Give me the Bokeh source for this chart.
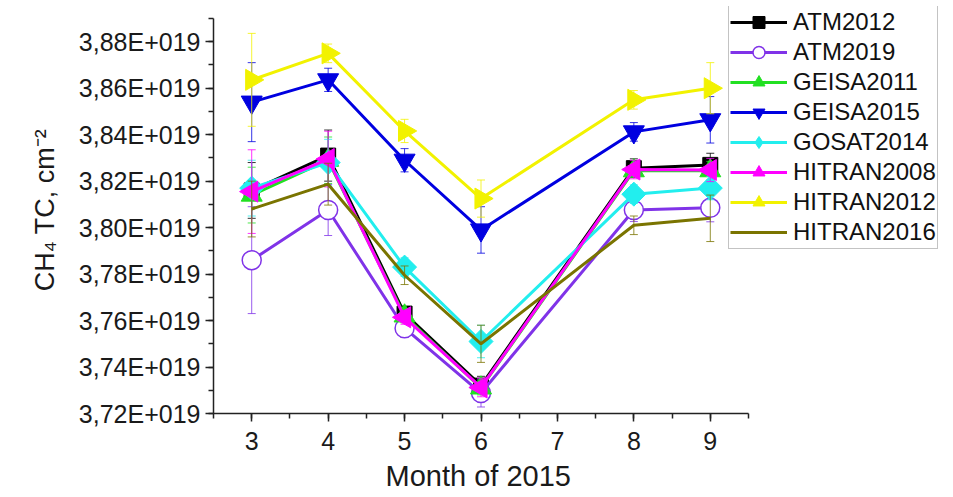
import numpy as np
from bokeh.plotting import figure
from bokeh.models import (ColumnDataSource, Legend, LegendItem, SingleIntervalTicker,
                          CustomJSTickFormatter, Range1d, Title)
from bokeh.embed import file_html
from bokeh.resources import INLINE

# ---- data (values in units of 1E+019 molecules/cm^2) ----
months = [3, 4, 5, 6, 8, 9]

series_names = ["ATM2012", "ATM2019", "GEISA2011", "GEISA2015",
                "GOSAT2014", "HITRAN2008", "HITRAN2012", "HITRAN2016"]

ATM2012 = [3.816, 3.831, 3.763, 3.732, 3.8256, 3.827]
ATM2019 = [3.786, 3.8076, 3.7567, 3.7288, 3.8076, 3.8085]
GEISA2011 = [3.814, 3.829, 3.762, 3.731, 3.8245, 3.8245]
GEISA2015 = [3.854, 3.8636, 3.829, 3.799, 3.8412, 3.8464]
GOSAT2014 = [3.817, 3.828, 3.783, 3.751, 3.8144, 3.817]
HITRAN2008 = [3.8155, 3.8295, 3.7614, 3.7312, 3.825, 3.8248]
HITRAN2012 = [3.8636, 3.875, 3.8416, 3.8125, 3.855, 3.860]
HITRAN2016 = [3.808, 3.8187, 3.7795, 3.750, 3.801, 3.804]

ERR_ATM2012 = [0.012, 0.011, 0.003, 0.004, 0.004, 0.005]
ERR_ATM2019 = [0.023, 0.011, 0.004, 0.006, 0.005, 0.006]
ERR_GEISA2011 = [0.012, 0.010, 0.003, 0.003, 0.003, 0.004]
ERR_GEISA2015 = [0.017, 0.005, 0.005, 0.010, 0.004, 0.010]
ERR_GOSAT2014 = [0.012, 0.010, 0.004, 0.007, 0.004, 0.005]
ERR_HITRAN2008 = [0.018, 0.012, 0.003, 0.004, 0.004, 0.005]
ERR_HITRAN2012 = [0.020, 0.004, 0.005, 0.008, 0.004, 0.011]
ERR_HITRAN2016 = [0.012, 0.009, 0.004, 0.008, 0.004, 0.010]

x_axis_bounds = (2.5, 9.5)
y_axis_bounds = (3.72, 3.89)
x_title = "Month of 2015"
y_title = "CH\u2084 TC, cm\u207B\u00B2"

values = [ATM2012, ATM2019, GEISA2011, GEISA2015, GOSAT2014, HITRAN2008, HITRAN2012, HITRAN2016]
errors = [ERR_ATM2012, ERR_ATM2019, ERR_GEISA2011, ERR_GEISA2015, ERR_GOSAT2014,
          ERR_HITRAN2008, ERR_HITRAN2012, ERR_HITRAN2016]

# ---- styles ----
colors = ["#000000", "#8033E8", "#22E022", "#0000E0", "#22EEEE", "#FF00FF", "#F2F200", "#7A7400"]
markers = ["square", "circle", "triangle", "inverted_triangle", "square",
           "triangle", "triangle", "hexagon"]
angles = [0, 0, 0, 0, np.pi / 4, np.pi / 2, -np.pi / 2, 0]
sizes = [15, 19, 21, 21, 17, 21, 21, 22]
fills = list(colors)
fills[1] = "white"

FONT = "Liberation Sans"

W, H = 953, 497
LEFT, BOTTOM, TOP = 213, 84, 6
AXIS_W_PX, AXIS_H_PX = 535, 395           # pixel length of the drawn axes
frame_w = W - LEFT
frame_h = H - BOTTOM - TOP
x_end = x_axis_bounds[0] + (x_axis_bounds[1] - x_axis_bounds[0]) * frame_w / AXIS_W_PX
y_end = y_axis_bounds[0] + (y_axis_bounds[1] - y_axis_bounds[0]) * frame_h / AXIS_H_PX

p = figure(width=W, height=H, output_backend="svg", toolbar_location=None,
           x_range=Range1d(x_axis_bounds[0], x_end), y_range=Range1d(y_axis_bounds[0], y_end),
           min_border_left=LEFT, min_border_right=0, min_border_top=TOP, min_border_bottom=BOTTOM)
p.outline_line_color = None
p.xgrid.visible = False
p.ygrid.visible = False
p.background_fill_color = "white"
p.border_fill_color = "white"

items = []
for name, vals, errs, col, mk, ang, sz, fc in zip(series_names, values, errors, colors,
                                                  markers, angles, sizes, fills):
    src = ColumnDataSource(dict(
        x=months, y=vals,
        lo=[v - e for v, e in zip(vals, errs)],
        hi=[v + e for v, e in zip(vals, errs)],
    ))
    p.segment(x0="x", y0="lo", x1="x", y1="hi", source=src, line_color=col, line_width=1, line_alpha=0.8)
    p.scatter(x="x", y="lo", source=src, marker="dash", size=8, line_color=col, line_width=1, line_alpha=0.8)
    p.scatter(x="x", y="hi", source=src, marker="dash", size=8, line_color=col, line_width=1, line_alpha=0.8)
    ln = p.line(x="x", y="y", source=src, line_color=col, line_width=3)
    lw = 1.5 if name == "ATM2019" else 1
    legend_r = [ln]
    if name == "GOSAT2014":
        # diamond (hidden under the rotated square) so the legend shows a diamond
        dm = p.scatter(x="x", y="y", source=src, marker="diamond", size=sz,
                       fill_color=fc, line_color=col, line_width=lw)
        legend_r.append(dm)
    sc = p.scatter(x="x", y="y", source=src, marker=mk, angle=ang, size=sz,
                   fill_color=fc, line_color=col, line_width=lw)
    if name != "GOSAT2014":
        legend_r.append(sc)
    items.append(LegendItem(label=name, renderers=legend_r))

# axes
for ax in (p.xaxis[0], p.yaxis[0]):
    ax.axis_line_color = "#222222"
    ax.axis_line_width = 1.5
    ax.major_tick_line_color = "#222222"
    ax.minor_tick_line_color = "#222222"
    ax.major_tick_line_width = 1.5
    ax.minor_tick_line_width = 1.5
    ax.major_tick_in = 0
    ax.major_tick_out = 8
    ax.minor_tick_in = 0
    ax.minor_tick_out = 5
    ax.major_label_text_font = FONT
    ax.major_label_text_font_size = "25px"
    ax.major_label_text_color = "#1a1a1a"
    ax.axis_label_text_font = FONT
    ax.axis_label_text_font_style = "normal"
    ax.axis_label_text_color = "#1a1a1a"

p.xaxis[0].bounds = x_axis_bounds
p.xaxis[0].ticker = SingleIntervalTicker(interval=1, num_minor_ticks=2)
p.xaxis[0].major_label_standoff = 10

p.yaxis[0].bounds = y_axis_bounds
p.yaxis[0].ticker = SingleIntervalTicker(interval=0.02, num_minor_ticks=2)
p.yaxis[0].formatter = CustomJSTickFormatter(
    code="return tick.toFixed(2).replace('.', ',') + 'E+019';")
p.yaxis[0].axis_label = y_title
p.yaxis[0].axis_label_text_font_size = "27px"
p.yaxis[0].major_label_standoff = 5
p.yaxis[0].axis_label_standoff = 16

# x axis title, centred under the drawn axis (not the whole frame)
xt = Title(text=x_title, align="left", offset=172, standoff=11,
           text_font=FONT, text_font_size="29px", text_font_style="normal",
           text_color="#1a1a1a")
p.add_layout(xt, "below")

legend = Legend(items=items, location=(728 - LEFT, (H - BOTTOM) - 249), padding=1, spacing=0,
                glyph_width=57, glyph_height=30, label_height=30, label_standoff=6,
                label_text_font=FONT, label_text_font_size="24px", label_text_color="#111111",
                border_line_color="#888888", border_line_width=1,
                background_fill_color="white", background_fill_alpha=1.0, margin=0)
p.add_layout(legend, "center")

open("out.html", "w").write(file_html(p, INLINE))
